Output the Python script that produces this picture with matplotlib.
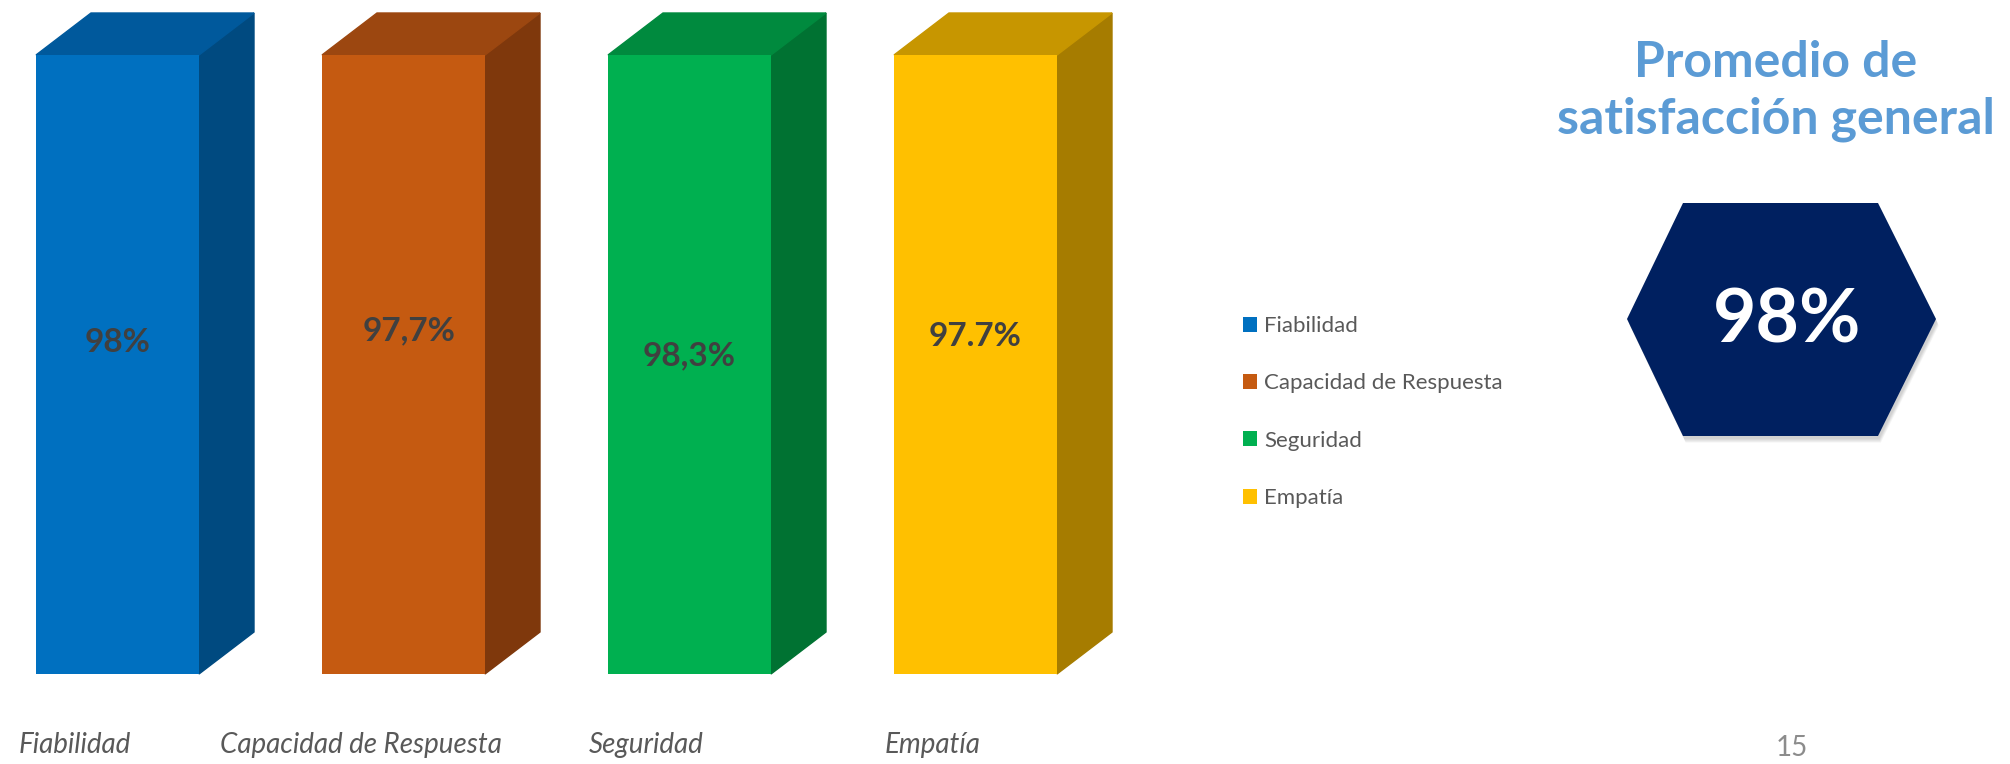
import numpy as np
import matplotlib.pyplot as plt
from matplotlib.patches import Polygon, Patch
from matplotlib.transforms import blended_transform_factory

# data
categories = ['Fiabilidad', 'Capacidad de Respuesta', 'Seguridad', 'Empatía']
bar_heights = [100, 100, 100, 100]   # all bars drawn the same height
value_labels = ['98%', '97,7%', '98,3%', '97.7%']
overall = '98%'
page_num = '15'

front_cols = ['#0070C0', '#C55A11', '#00B050', '#FFC000']
top_cols = ['#00599C', '#9C4710', '#008A3E', '#C79600']
side_cols = ['#004A80', '#7F380C', '#007232', '#A67C00']

W, H = 2010, 764
fig = plt.figure(figsize=(W / 100, H / 100), dpi=100)
plt.rcParams['font.family'] = ['Lato', 'DejaVu Sans']

# overlay axes in pixel coords for the decorations
over = fig.add_axes([0, 0, 1, 1], zorder=0)
over.set_xlim(0, W)
over.set_ylim(H, 0)
over.axis('off')

# bar chart axes: front faces from y=674 (bottom) to y=55 (top), 286 px per slot
slot = 286
x0 = 117.5  # center of first front face
ax = fig.add_axes([0, (H - 674) / H, 4 * slot / W, (674 - 55) / H], zorder=1)
ax.set_xlim(-x0 / slot, 4 - x0 / slot)
ax.set_ylim(0, 100)
ax.axis('off')

x = np.arange(len(categories))
bw = 163 / slot
dx = 55 / slot
dy = 42 / (674 - 55) * 100

ax.bar(x, bar_heights, width=bw, color=front_cols, zorder=3)
for i, h in enumerate(bar_heights):
    l, r = x[i] - bw / 2, x[i] + bw / 2
    side = Polygon([(r, 0), (r + dx, dy), (r + dx, h + dy), (r, h)],
                   closed=True, color=side_cols[i], clip_on=False, zorder=2)
    top = Polygon([(l, h), (r, h), (r + dx, h + dy), (l + dx, h + dy)],
                  closed=True, color=top_cols[i], clip_on=False, zorder=2)
    ax.add_patch(side)
    ax.add_patch(top)

# value labels sit at slightly different heights on the slide
label_py = [342, 331, 356, 336]
label_dx = [0.0, 0.02, 0.0, 0.0]
lab_tr = blended_transform_factory(ax.transData, over.transData)
for i, lab in enumerate(value_labels):
    ax.text(x[i] + label_dx[i], label_py[i], lab, transform=lab_tr,
            ha='center', va='center', fontsize=24, fontweight='bold',
            color='#404040', zorder=5)

# category labels (offset left like the 3D projection in the original)
for i, cat in enumerate(categories):
    ax.text(x[i] - 0.15, 753, cat, transform=lab_tr, ha='center',
            va='baseline', fontsize=20, style='italic', color='#595959')

# legend
handles = [Patch(facecolor=c) for c in front_cols]
fig.legend(handles, categories, loc='upper left',
           bbox_to_anchor=(1223 / W, 1 - 296 / H), frameon=False,
           fontsize=16, handlelength=0.65, handleheight=0.65,
           handletextpad=0.3, labelspacing=1.68, labelcolor='#595959')

# title on the right
over.text(1776, 77, 'Promedio de', ha='center', va='baseline',
          fontsize=36, fontweight='bold', color='#5B9BD5')
over.text(1776, 133, 'satisfacción general', ha='center', va='baseline',
          fontsize=36, fontweight='bold', color='#5B9BD5')

# hexagon with the overall score
hexv = [(1627, 319), (1683, 203), (1878, 203), (1936, 319), (1878, 436), (1683, 436)]
for k in range(6, 0, -1):
    sh = [(px + 1 + k * 0.3, py + 2 + k * 0.8) for px, py in hexv]
    over.add_patch(Polygon(sh, closed=True, color='#000000', alpha=0.03, lw=0))
over.add_patch(Polygon(hexv, closed=True, color='#002060', lw=0))
over.text(1787, 321, overall, ha='center', va='center', fontsize=54,
          fontweight='bold', color='white')

over.text(1792, 756, page_num, ha='center', va='baseline', fontsize=20,
          color='#8C8C8C')

fig.savefig('out.png', dpi=100)
